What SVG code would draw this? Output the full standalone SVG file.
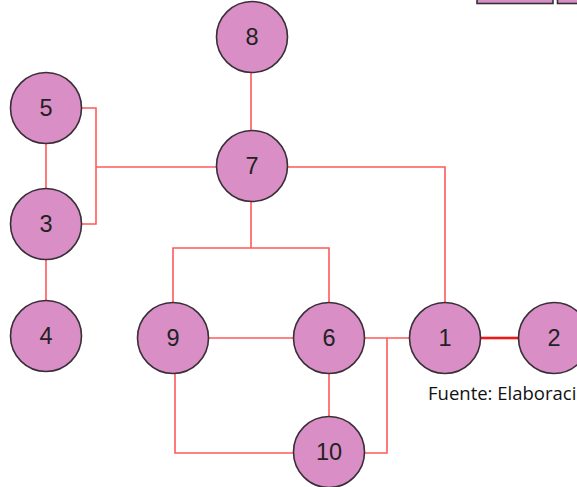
<svg xmlns="http://www.w3.org/2000/svg" width="577" height="487" viewBox="0 0 577 487">
<style>
.n circle{fill:#d98fc6;stroke:#3a2f38;stroke-width:1.6}
.n text{font-family:"Liberation Sans",Arial,sans-serif;font-size:23.5px;fill:#222;text-anchor:middle;dominant-baseline:central}
.e{fill:none;stroke:#ff5a5a;stroke-width:1.6}
.bar{fill:#d98fc6;stroke:#333;stroke-width:1.6}
.cap{font-family:"Open Sans","Liberation Sans",sans-serif;font-size:18.5px;fill:#111}
</style>
<rect width="577" height="487" fill="#fff"/>
<rect class="bar" x="477" y="-6" width="76" height="9.5"/>
<rect class="bar" x="557.5" y="-6" width="30" height="9.5"/>
<g id="connectors">
<path class="e" d="M251,72 V131"/>
<path class="e" d="M46,144 V189"/>
<path class="e" d="M46,260 V300"/>
<path class="e" d="M82,108 H96 V224 H82"/>
<path class="e" d="M96,167 H216"/>
<path class="e" d="M288,167 H445 V302"/>
<path class="e" d="M251,202 V248"/>
<path class="e" d="M173,302 V248 H329 V302"/>
<path class="e" d="M209,338 H293"/>
<path class="e" d="M329,374 V416"/>
<path class="e" d="M365,338 H409"/>
<path class="e" d="M387,338 V453 H365"/>
<path class="e" d="M175,374 V453 H293"/>
<path d="M481,338 H518" fill="none" stroke="#ff7070" stroke-width="3.2"/>
<path d="M481,338 H518" fill="none" stroke="#e00000" stroke-width="1.4"/>
</g>
<g id="node8" class="n"><circle cx="252" cy="37" r="35.5"/><text x="252" y="37">8</text></g>
<g id="node5" class="n"><circle cx="46" cy="108" r="35.5"/><text x="46" y="108">5</text></g>
<g id="node7" class="n"><circle cx="252" cy="166" r="35.5"/><text x="252" y="166">7</text></g>
<g id="node3" class="n"><circle cx="46" cy="224" r="35.5"/><text x="46" y="224">3</text></g>
<g id="node4" class="n"><circle cx="46" cy="336" r="35.5"/><text x="46" y="336">4</text></g>
<g id="node9" class="n"><circle cx="173" cy="338" r="35.5"/><text x="173" y="338">9</text></g>
<g id="node6" class="n"><circle cx="329" cy="338" r="35.5"/><text x="329" y="338">6</text></g>
<g id="node1" class="n"><circle cx="445" cy="338" r="35.5"/><text x="445" y="338">1</text></g>
<g id="node2" class="n"><circle cx="554" cy="338" r="35.5"/><text x="554" y="338">2</text></g>
<g id="node10" class="n"><circle cx="329" cy="452" r="35.5"/><text x="329" y="452">10</text></g>
<text class="cap" x="428" y="400">Fuente: Elaboraci</text>
</svg>
